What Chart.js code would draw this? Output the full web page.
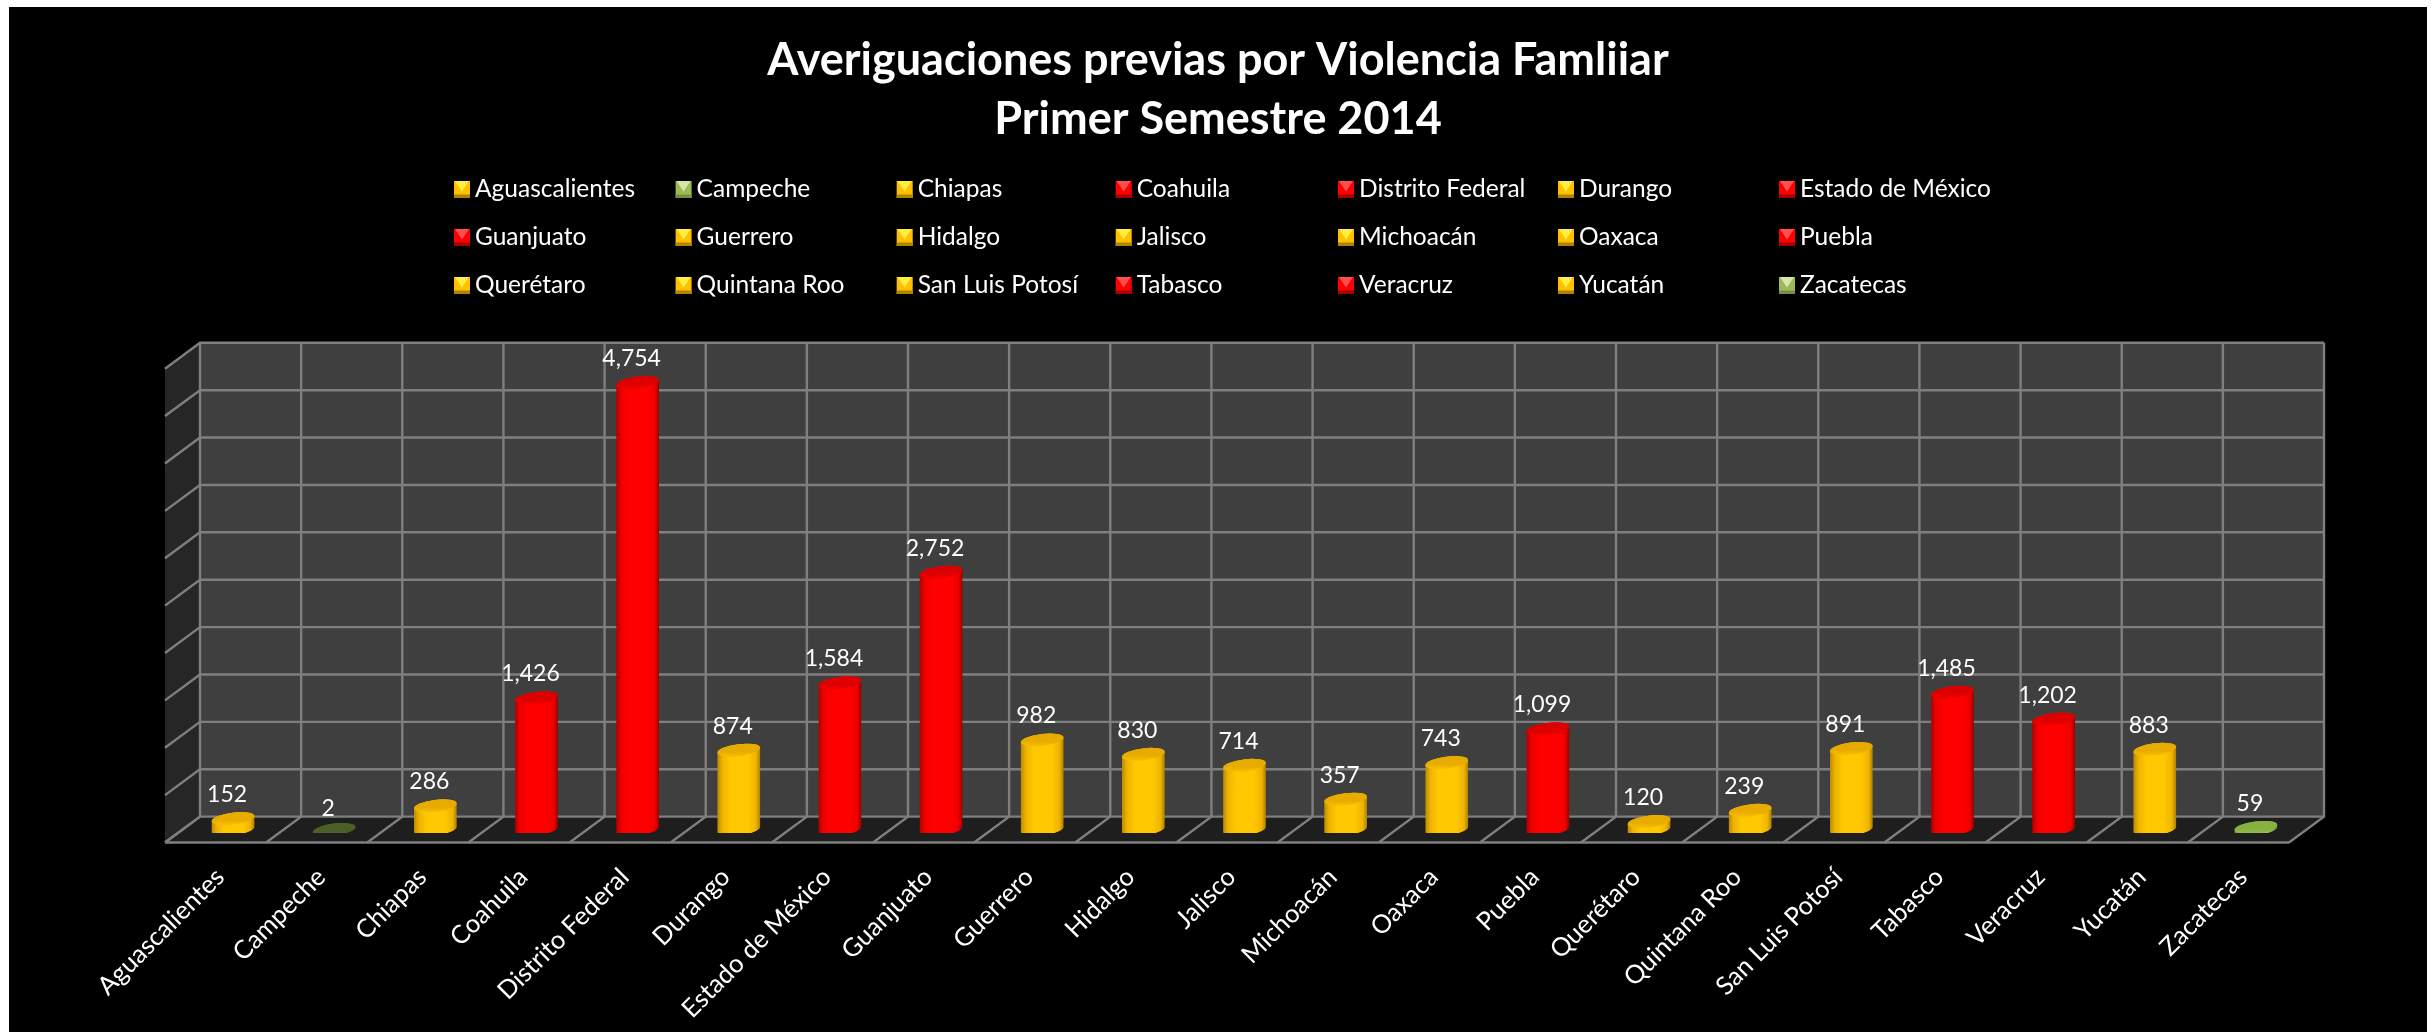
<!DOCTYPE html>
<html lang="es">
<head>
<meta charset="utf-8">
<title>Averiguaciones previas por Violencia Famliiar</title>
<script src="https://cdn.jsdelivr.net/npm/chart.js@4/dist/chart.umd.js"></script>
<style>
html,body{margin:0;padding:0;background:#fff;width:2435px;height:1032px;overflow:hidden}
canvas{position:absolute;left:9px;top:7px;background:#000}
</style>
</head>
<body>
<canvas id="c" width="2418" height="1025"></canvas>
<script>
const titleLines = ['Averiguaciones previas por Violencia Famliiar', 'Primer Semestre 2014'];
const categories = ['Aguascalientes','Campeche','Chiapas','Coahuila','Distrito Federal','Durango','Estado de México','Guanjuato','Guerrero','Hidalgo','Jalisco','Michoacán','Oaxaca','Puebla','Querétaro','Quintana Roo','San Luis Potosí','Tabasco','Veracruz','Yucatán','Zacatecas'];
const values = [152,2,286,1426,4754,874,1584,2752,982,830,714,357,743,1099,120,239,891,1485,1202,883,59];
const barColors = ['#FFC000','#52662B','#FFC000','#FF0000','#FF0000','#FFC000','#FF0000','#FF0000','#FFC000','#FFC000','#FFC000','#FFC000','#FFC000','#FF0000','#FFC000','#FFC000','#FFC000','#FF0000','#FF0000','#FFC000','#9BBB59'];
const legendColors = ['#FFC000','#9BBB59','#FFC000','#FF0000','#FF0000','#FFC000','#FF0000','#FF0000','#FFC000','#FFC000','#FFC000','#FFC000','#FFC000','#FF0000','#FFC000','#FFC000','#FFC000','#FF0000','#FF0000','#FFC000','#9BBB59'];

const FONT = 'Lato';
const DEPTH = {dx: 17.5, back: 16.4, front: 9.5};
const LEGEND = {cols: [445, 666.6, 887.7, 1106.7, 1329, 1549, 1770], rows: [182.5, 230.5, 278.5], perRow: 7};

const shades = {
  '#FFC000': {edgeL:'#B88A00', mid:'#EFB300', bright:'#FFC800', edgeR:'#A87E00', capTop:'#E8AC00', capBot:'#FFC400', light:'#FFEE44', dark:'#B08400'},
  '#FF0000': {edgeL:'#B00000', mid:'#EE0000', bright:'#FF0000', edgeR:'#980000', capTop:'#DC0000', capBot:'#F80000', light:'#FF5050', dark:'#A80000'},
  '#9BBB59': {edgeL:'#6F8A3A', mid:'#8CAB4E', bright:'#9BBB59', edgeR:'#667F35', capTop:'#86B040', capBot:'#96C24E', light:'#D6E6A8', dark:'#76903F'},
  '#52662B': {edgeL:'#3C4C1E', mid:'#4A5C26', bright:'#52662B', edgeR:'#364519', capTop:'#4C5F28', capBot:'#566B2E', light:'#8A9C60', dark:'#3C4C1E'}
};

// Bars are drawn as tilted cylinders, from the geometry the bar controller computes.
const TILT = 7 * Math.PI / 180, RY = 6, BASE_LIFT = 3.5;
Chart.BarElement.prototype.draw = function (ctx) {
  const {x, y, base, width} = this;
  const s = shades[this.options.backgroundColor];
  const rx = width / 2, yb = base - BASE_LIFT, yt = Math.min(y, yb);
  ctx.save();
  const g = ctx.createLinearGradient(x - rx, 0, x + rx, 0);
  g.addColorStop(0, s.edgeL); g.addColorStop(.12, s.mid); g.addColorStop(.3, s.bright);
  g.addColorStop(.72, s.bright); g.addColorStop(.9, s.mid); g.addColorStop(1, s.edgeR);
  ctx.beginPath();
  ctx.ellipse(x, yb, rx, RY, -TILT, 0, Math.PI);
  ctx.ellipse(x, yt, rx, RY, -TILT, Math.PI, 2 * Math.PI);
  ctx.closePath();
  ctx.fillStyle = g;
  ctx.fill();
  const c = ctx.createLinearGradient(0, yt - RY - 2, 0, yt + RY + 2);
  c.addColorStop(0, s.capTop); c.addColorStop(.6, s.capTop); c.addColorStop(1, s.capBot);
  ctx.beginPath();
  ctx.ellipse(x, yt, rx, RY, -TILT, 0, 2 * Math.PI);
  ctx.fillStyle = c;
  ctx.fill();
  ctx.restore();
};

const box3d = {
  id: 'box3d',
  beforeDatasetsDraw(chart) {
    const {ctx, scales: {x, y}} = chart;
    const L = x.left + DEPTH.dx, R = x.right + DEPTH.dx;
    const T = y.top - DEPTH.back, B = y.bottom - DEPTH.back;
    const fL = x.left - DEPTH.dx, fR = x.right - DEPTH.dx, fB = y.bottom + DEPTH.front;
    const shiftL = L - fL, shiftY = DEPTH.back + DEPTH.front;
    ctx.save();
    ctx.fillStyle = '#3F3F3F'; ctx.fillRect(L, T, R - L, B - T);
    ctx.fillStyle = '#262626';
    ctx.beginPath(); ctx.moveTo(fL, T + shiftY); ctx.lineTo(L, T); ctx.lineTo(L, B); ctx.lineTo(fL, fB); ctx.closePath(); ctx.fill();
    ctx.fillStyle = '#1E1E1E';
    ctx.beginPath(); ctx.moveTo(L, B); ctx.lineTo(R, B); ctx.lineTo(fR, fB); ctx.lineTo(fL, fB); ctx.closePath(); ctx.fill();
    ctx.strokeStyle = '#7F7F7F'; ctx.lineWidth = 2.4;
    y.ticks.forEach(t => {
      const py = y.getPixelForValue(t.value) - DEPTH.back;
      ctx.beginPath(); ctx.moveTo(L - shiftL, py + shiftY); ctx.lineTo(L, py); ctx.lineTo(R, py); ctx.stroke();
    });
    const step = (R - L) / categories.length;
    for (let i = 0; i <= categories.length; i++) {
      const bx = L + i * step;
      ctx.beginPath(); ctx.moveTo(bx, T); ctx.lineTo(bx, B); ctx.lineTo(bx - shiftL, fB); ctx.stroke();
    }
    // front floor edge
    ctx.beginPath(); ctx.moveTo(fL, fB); ctx.lineTo(fR, fB); ctx.stroke();
    ctx.restore();
  }
};

const dataLabels = {
  id: 'dataLabels',
  afterDatasetsDraw(chart) {
    const {ctx} = chart;
    ctx.save();
    ctx.fillStyle = '#fff';
    ctx.font = '23px ' + FONT;
    ctx.textAlign = 'center';
    ctx.textBaseline = 'middle';
    chart.getDatasetMeta(0).data.forEach((el, i) => {
      ctx.fillText(values[i].toLocaleString('en-US'), el.x - 6, el.y - 24);
    });
    ctx.restore();
  }
};

const gridLegend = {
  id: 'gridLegend',
  afterDraw(chart) {
    const {ctx} = chart;
    ctx.save();
    ctx.textBaseline = 'middle';
    ctx.textAlign = 'left';
    ctx.font = '24.5px ' + FONT;
    categories.forEach((name, i) => {
      const x = LEGEND.cols[i % LEGEND.perRow], yc = LEGEND.rows[Math.floor(i / LEGEND.perRow)];
      const s = shades[legendColors[i]];
      const w = 16, h = 17, l = x, t = yc - h / 2, r = l + w, b = t + h;
      ctx.fillStyle = legendColors[i]; ctx.fillRect(l, t, w, h);
      ctx.fillStyle = s.light;
      ctx.beginPath(); ctx.moveTo(l + 1, t); ctx.lineTo(r - 1, t); ctx.lineTo(l + w / 2, yc + 2); ctx.closePath(); ctx.fill();
      ctx.fillStyle = s.dark; ctx.fillRect(l, b - 3.5, w, 3.5);
      ctx.fillStyle = '#fff';
      ctx.fillText(name, x + 21, yc);
    });
    ctx.restore();
  }
};

new Chart(document.getElementById('c'), {
  type: 'bar',
  data: {labels: categories, datasets: [{data: values, backgroundColor: barColors, categoryPercentage: 1, barPercentage: .425}]},
  plugins: [box3d, dataLabels, gridLegend, {
    id: 'titleSpan',
    afterLayout(chart) { chart.titleBlock.left = 0; chart.titleBlock.right = chart.width; }
  }],
  options: {
    responsive: false,
    animation: false,
    layout: {padding: {left: 173.5, right: 120.5, top: 0, bottom: 0}},
    plugins: {
      legend: {display: false},
      tooltip: {enabled: false},
      title: {
        display: true,
        text: titleLines,
        color: '#fff',
        align: 'center',
        font: {family: FONT, size: 45, weight: 'bold', lineHeight: 59 / 45},
        padding: {top: 24, bottom: 210.2}
      }
    },
    scales: {
      x: {
        grid: {display: false},
        border: {display: false},
        ticks: {color: '#fff', font: {family: FONT, size: 25.5}, maxRotation: 45, minRotation: 45, autoSkip: false, padding: 21, labelOffset: -13},
        afterFit(s) { s.height = 199; s.paddingLeft = 0; s.paddingRight = 0; }
      },
      y: {
        min: 0, max: 5000,
        grid: {display: false},
        border: {display: false},
        ticks: {display: false, stepSize: 500},
        afterFit(s) { s.width = 0; }
      }
    }
  }
});
</script>
</body>
</html>
